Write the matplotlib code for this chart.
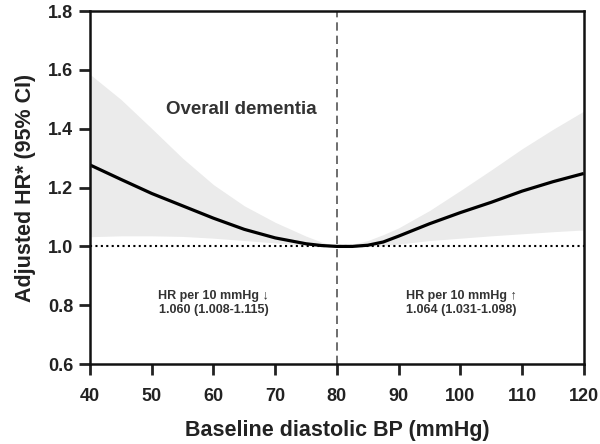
import numpy as np
import matplotlib.pyplot as plt

plt.rcParams['font.family'] = ['Liberation Sans', 'DejaVu Sans']
plt.rcParams['font.weight'] = 'bold'

# spline estimate of HR vs. diastolic BP, reference at 80 mmHg
dbp = [40, 45, 50, 55, 60, 65, 70, 75, 77.5, 80, 82.5, 85, 87.5, 90, 95, 100, 105, 110, 115, 120]
hr = [1.277, 1.228, 1.180, 1.138, 1.096, 1.058, 1.029, 1.009, 1.003, 1.000, 1.000, 1.004, 1.015,
      1.035, 1.077, 1.115, 1.150, 1.188, 1.220, 1.248]
ci_upper = [1.585, 1.500, 1.401, 1.300, 1.210, 1.138, 1.082, 1.035, 1.015, 1.000, 1.007, 1.020,
            1.040, 1.063, 1.122, 1.190, 1.260, 1.332, 1.398, 1.460]
ci_lower = [1.033, 1.036, 1.036, 1.034, 1.028, 1.020, 1.012, 1.004, 1.001, 1.000, 1.000, 1.000,
            1.003, 1.008, 1.020, 1.028, 1.036, 1.043, 1.050, 1.056]
ref_bp = 80
xticks = [40, 50, 60, 70, 80, 90, 100, 110, 120]
yticks = [0.6, 0.8, 1.0, 1.2, 1.4, 1.6, 1.8]
note_low = "HR per 10 mmHg \u2193\n1.060 (1.008-1.115)"
note_high = "HR per 10 mmHg \u2191\n1.064 (1.031-1.098)"

fig = plt.figure(figsize=(6, 4.44), dpi=100)
ax = fig.add_axes([0.15, 0.18, 0.823, 0.795])

ax.fill_between(dbp, ci_lower, ci_upper, color='#ebebeb', lw=0)
ax.plot(dbp, hr, color='black', lw=2.3, solid_capstyle='butt')
ax.axhline(1.0, color='black', ls=(0, (1, 1.6)), lw=1.5)
ax.axvline(ref_bp, color='#555555', ls=(0, (5, 3)), lw=1.2)

ax.set_xlim(40, 120)
ax.set_ylim(0.6, 1.8)
ax.set_xticks(xticks)
ax.set_yticks(yticks)
ax.set_xticklabels([str(t) for t in xticks])
ax.set_yticklabels(['%.1f' % t for t in yticks])
ax.tick_params(direction='out', length=8, width=2, labelsize=13, colors='#222222')
ax.tick_params(axis='x', pad=9)
ax.tick_params(axis='y', pad=4)
for s in ax.spines.values():
   s.set_linewidth(1.8)
   s.set_color('#111111')

ax.set_xlabel('Baseline diastolic BP (mmHg)', fontsize=15.5, fontweight='bold', color='#222222', labelpad=11)
ax.set_ylabel('Adjusted HR* (95% CI)', fontsize=15.5, fontweight='bold', color='#222222', labelpad=9)

ax.text(64.5, 1.467, 'Overall dementia', fontsize=13.5, fontweight='bold', color='#333333',
        ha='center', va='center')
ax.text(60, 0.808, note_low, fontsize=9, fontweight='bold', color='#333333',
        ha='center', va='center', linespacing=1.25)
ax.text(100.2, 0.808, note_high, fontsize=9, fontweight='bold', color='#333333',
        ha='center', va='center', linespacing=1.25)

fig.savefig('out.png', dpi=100)
